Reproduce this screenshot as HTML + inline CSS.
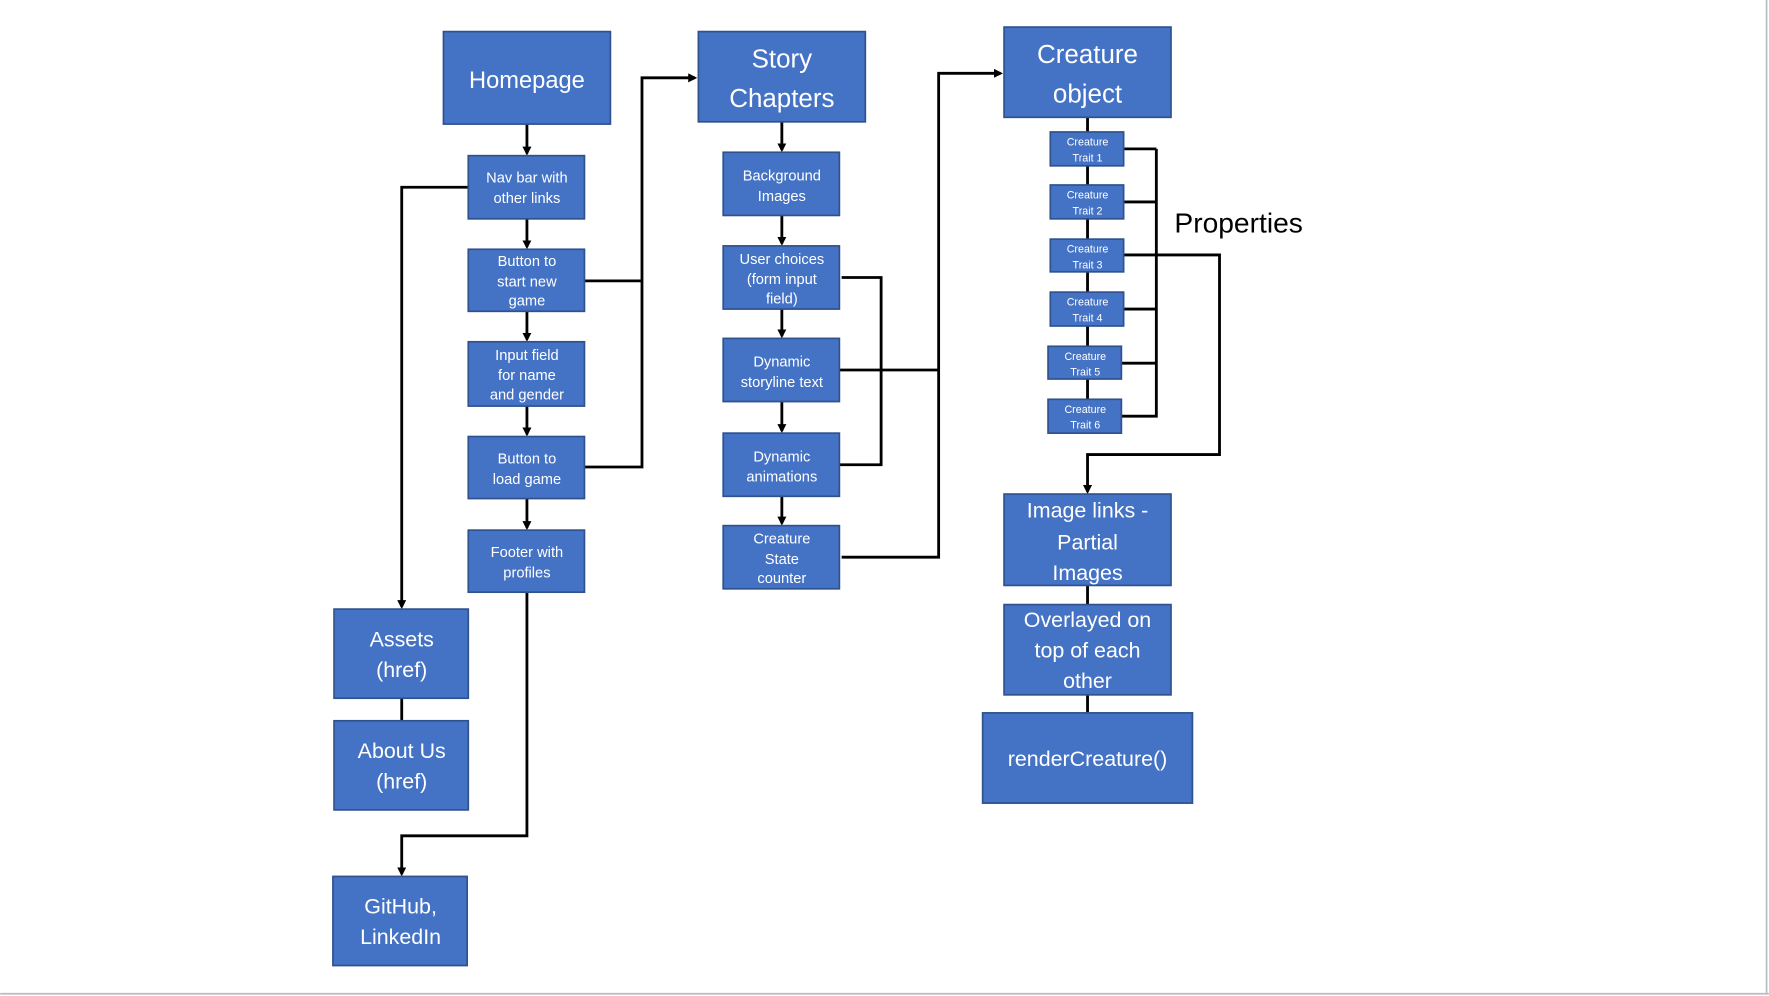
<!DOCTYPE html>
<html><head><meta charset="utf-8"><style>
html,body{margin:0;padding:0;background:#fff;}
svg{display:block;}
text{font-family:"Liberation Sans",sans-serif;fill:#fff;text-anchor:middle;}
.b{fill:#4472c4;stroke:#2f528f;stroke-width:1.5;}
.l{stroke:#000;stroke-width:2.5;fill:none;}
</style></head><body>
<svg width="1769" height="996" viewBox="0 0 1568 883" xmlns="http://www.w3.org/2000/svg">
<defs><marker id="a" markerWidth="8" markerHeight="8" refX="6" refY="4" orient="auto" markerUnits="userSpaceOnUse"><path d="M0,0 L8,4 L0,8 z" fill="#000"/></marker></defs>
<line x1="1566" y1="0" x2="1566" y2="881" stroke="#bbb" stroke-width="1.5"/>
<line x1="0" y1="881" x2="1568" y2="881" stroke="#bbb" stroke-width="1.5"/>
<g class="l">
<path d="M467,110V136" marker-end="url(#a)"/>
<path d="M467,194V219" marker-end="url(#a)"/>
<path d="M467,276V301" marker-end="url(#a)"/>
<path d="M467,360V385" marker-end="url(#a)"/>
<path d="M467,442V468" marker-end="url(#a)"/>
<path d="M415,166H356V538" marker-end="url(#a)"/>
<path d="M518,249H569M518,414H569V69H616" marker-end="url(#a)"/>
<path d="M693,108V133" marker-end="url(#a)"/>
<path d="M693,191V216" marker-end="url(#a)"/>
<path d="M693,274V298" marker-end="url(#a)"/>
<path d="M693,356V382" marker-end="url(#a)"/>
<path d="M693,440V464" marker-end="url(#a)"/>
<path d="M746,246H781V412H744"/>
<path d="M744,328H832M746,494H832V65H887" marker-end="url(#a)"/>
<path d="M964,104V384"/>
<path d="M996,132H1025M996,179H1025M996,274H1025M994,322H1025M994,369H1025V132"/>
<path d="M996,226H1081V403H964V436" marker-end="url(#a)"/>
<path d="M964,519V632"/>
<path d="M356,619V639"/>
<path d="M467,525V741H356V775" marker-end="url(#a)"/>
</g>
<rect class="b" x="393" y="28" width="148" height="82"/><text x="467" y="78" font-size="21">Homepage</text>
<rect class="b" x="415" y="138" width="103" height="56"/><text x="467" y="162" font-size="13">Nav bar with</text><text x="467" y="180" font-size="13">other links</text>
<rect class="b" x="415" y="221" width="103" height="55"/><text x="467" y="236" font-size="13">Button to</text><text x="467" y="254" font-size="13">start new</text><text x="467" y="271" font-size="13">game</text>
<rect class="b" x="415" y="303" width="103" height="57"/><text x="467" y="319" font-size="13">Input field</text><text x="467" y="337" font-size="13">for name</text><text x="467" y="354" font-size="13">and gender</text>
<rect class="b" x="415" y="387" width="103" height="55"/><text x="467" y="411" font-size="13">Button to</text><text x="467" y="429" font-size="13">load game</text>
<rect class="b" x="415" y="470" width="103" height="55"/><text x="467" y="494" font-size="13">Footer with</text><text x="467" y="512" font-size="13">profiles</text>
<rect class="b" x="619" y="28" width="148" height="80"/><text x="693" y="60" font-size="23">Story</text><text x="693" y="95" font-size="23">Chapters</text>
<rect class="b" x="641" y="135" width="103" height="56"/><text x="693" y="160" font-size="13">Background</text><text x="693" y="178" font-size="13">Images</text>
<rect class="b" x="641" y="218" width="103" height="56"/><text x="693" y="234" font-size="13">User choices</text><text x="693" y="252" font-size="13">(form input</text><text x="693" y="269" font-size="13">field)</text>
<rect class="b" x="641" y="300" width="103" height="56"/><text x="693" y="325" font-size="13">Dynamic</text><text x="693" y="343" font-size="13">storyline text</text>
<rect class="b" x="641" y="384" width="103" height="56"/><text x="693" y="409" font-size="13">Dynamic</text><text x="693" y="427" font-size="13">animations</text>
<rect class="b" x="641" y="466" width="103" height="56"/><text x="693" y="482" font-size="13">Creature</text><text x="693" y="500" font-size="13">State</text><text x="693" y="517" font-size="13">counter</text>
<rect class="b" x="890" y="24" width="148" height="80"/><text x="964" y="56" font-size="23">Creature</text><text x="964" y="91" font-size="23">object</text>
<rect class="b" x="931" y="117" width="65" height="30"/><text x="964" y="129" font-size="9.5">Creature</text><text x="964" y="143" font-size="9.5">Trait 1</text>
<rect class="b" x="931" y="164" width="65" height="30"/><text x="964" y="176" font-size="9.5">Creature</text><text x="964" y="190" font-size="9.5">Trait 2</text>
<rect class="b" x="931" y="212" width="65" height="29"/><text x="964" y="224" font-size="9.5">Creature</text><text x="964" y="238" font-size="9.5">Trait 3</text>
<rect class="b" x="931" y="259" width="65" height="30"/><text x="964" y="271" font-size="9.5">Creature</text><text x="964" y="285" font-size="9.5">Trait 4</text>
<rect class="b" x="929" y="307" width="65" height="29"/><text x="962" y="319" font-size="9.5">Creature</text><text x="962" y="333" font-size="9.5">Trait 5</text>
<rect class="b" x="929" y="354" width="65" height="30"/><text x="962" y="366" font-size="9.5">Creature</text><text x="962" y="380" font-size="9.5">Trait 6</text>
<text x="1041" y="206" font-size="25" style="fill:#000;text-anchor:start">Properties</text>
<rect class="b" x="890" y="438" width="148" height="81"/><text x="964" y="459" font-size="19">Image links -</text><text x="964" y="487" font-size="19">Partial</text><text x="964" y="514" font-size="19">Images</text>
<rect class="b" x="890" y="536" width="148" height="80"/><text x="964" y="556" font-size="19">Overlayed on</text><text x="964" y="583" font-size="19">top of each</text><text x="964" y="610" font-size="19">other</text>
<rect class="b" x="871" y="632" width="186" height="80"/><text x="964" y="679" font-size="19">renderCreature()</text>
<rect class="b" x="296" y="540" width="119" height="79"/><text x="356" y="573" font-size="19">Assets</text><text x="356" y="600" font-size="19">(href)</text>
<rect class="b" x="296" y="639" width="119" height="79"/><text x="356" y="672" font-size="19">About Us</text><text x="356" y="699" font-size="19">(href)</text>
<rect class="b" x="295" y="777" width="119" height="79"/><text x="355" y="810" font-size="19">GitHub,</text><text x="355" y="837" font-size="19">LinkedIn</text>
</svg>
</body></html>
